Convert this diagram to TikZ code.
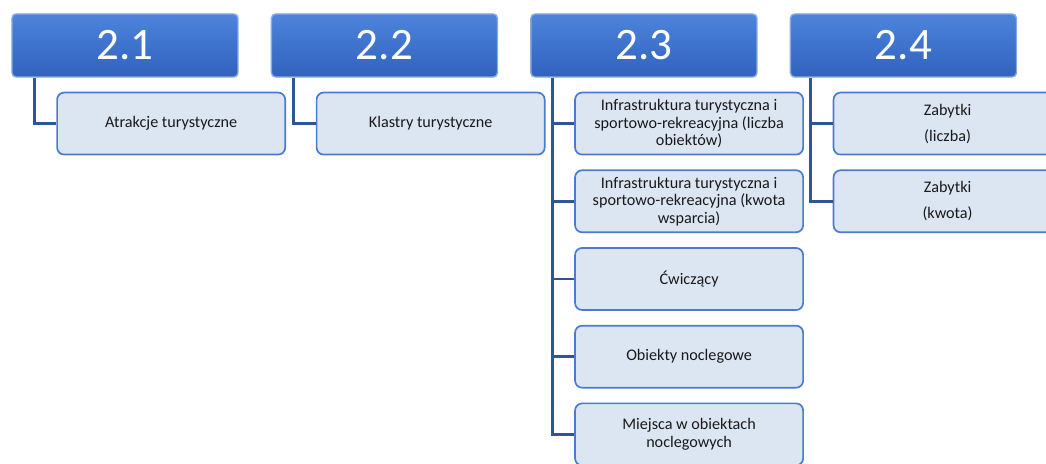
\documentclass[tikz,border=0pt]{standalone}
\usepackage{fontspec}
\setmainfont{Carlito}
\usetikzlibrary{positioning}
\definecolor{hdtop}{HTML}{4D84DC}
\definecolor{hdbot}{HTML}{3062BE}
\definecolor{hdline}{HTML}{8AAAE2}
\definecolor{leaffill}{HTML}{DCE6F2}
\definecolor{leafline}{HTML}{4A7BD0}
\definecolor{linkcol}{HTML}{2F5597}
\tikzstyle{header} = [rectangle, rounded corners=3pt, minimum width=5.65cm,
minimum height=1.575cm, text centered, top color=hdtop, bottom color=hdbot,
draw=hdline, line width=1pt, text=white, font=\fontsize{32}{36}\selectfont]
\tikzstyle{leaf} = [rectangle, rounded corners=5pt, minimum width=5.7cm,
minimum height=1.55cm, align=center, fill=leaffill, draw=leafline,
line width=1.2pt, text=black!90, font=\fontsize{11.5}{12.5}\selectfont]
\tikzstyle{link} = [linkcol, line width=2pt]

\begin{document}
\begin{tikzpicture}[x=0.025cm, y=-0.025cm]
    \useasboundingbox (0,0) rectangle (1046,463);
    \node (h1) [header] at (125,45.5) {2.1};
    \node (h2) [header, right=0.8cm of h1] {2.2};
    \node (h3) [header, right=0.8cm of h2] {2.3};
    \node (h4) [header, right=0.8cm of h3] {2.4};

    \node (a1) [leaf, below=0.35cm of h1.south west, anchor=north west, xshift=1.125cm] {Atrakcje turystyczne};
    \node (b1) [leaf, below=0.35cm of h2.south west, anchor=north west, xshift=1.125cm] {Klastry turystyczne};
    \node (c1) [leaf, below=0.35cm of h3.south west, anchor=north west, xshift=1.1cm] {Infrastruktura turystyczna i\\sportowo-rekreacyjna (liczba\\obiektów)};
    \node (c2) [leaf, below=0.35cm of c1] {Infrastruktura turystyczna i\\sportowo-rekreacyjna (kwota\\wsparcia)};
    \node (c3) [leaf, below=0.35cm of c2] {Ćwiczący};
    \node (c4) [leaf, below=0.35cm of c3] {Obiekty noclegowe};
    \node (c5) [leaf, below=0.35cm of c4] {Miejsca w obiektach\\noclegowych};
    \node (d1) [leaf, below=0.35cm of h4.south west, anchor=north west, xshift=1.075cm] {Zabytki\\[6pt](liczba)};
    \node (d2) [leaf, below=0.35cm of d1] {Zabytki\\[6pt](kwota)};

    \draw[link] ([xshift=0.575cm]h1.south west) |- (a1.west);
    \draw[link] ([xshift=0.575cm]h2.south west) |- (b1.west);
    \draw[link] ([xshift=0.55cm]h3.south west) |- (c5.west);
    \foreach \n in {c1,c2,c3,c4}
        \draw[link] ([xshift=0.55cm]h3.south west |- \n.west) -- (\n.west);
    \draw[link] ([xshift=0.525cm]h4.south west) |- (d2.west);
    \draw[link] ([xshift=0.525cm]h4.south west |- d1.west) -- (d1.west);
\end{tikzpicture}
\end{document}
